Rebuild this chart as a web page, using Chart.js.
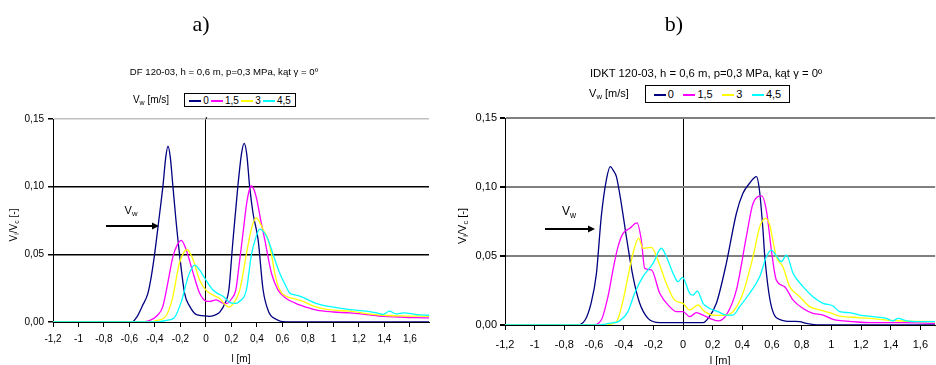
<!DOCTYPE html>
<html>
<head>
<meta charset="utf-8">
<script src="https://cdn.jsdelivr.net/npm/chart.js@4/dist/chart.umd.min.js"></script>
<style>
  body { margin: 0; background: #fff; }
  #hoja { position: relative; width: 936px; height: 365px; overflow: hidden; font-family: "Liberation Sans", Arial, sans-serif; color: #000; }
  canvas { position: absolute; top: 0; }
  .txt { position: absolute; white-space: nowrap; transform: translate(-50%, -50%); }
  .serif { font-family: "Liberation Serif", "Times New Roman", serif; font-size: 22px; }
  .leyenda { position: absolute; border: 1px solid #000; box-sizing: border-box; display: flex; align-items: center; justify-content: space-around; padding: 0 3px; background: #fff; }
  .leyenda span.linea { display: inline-block; width: 12px; height: 2px; margin-right: 2px; vertical-align: middle; }
  .ytit { position: absolute; white-space: nowrap; transform: translate(-50%, -50%) rotate(-90deg); }
  sub { font-size: 70%; vertical-align: -0.25em; }
</style>
</head>
<body>
<div id="hoja">
  <canvas id="ChartLineDF" width="470" height="365" style="left:0"></canvas>
  <canvas id="ChartLineIDKT" width="466" height="368" style="left:470px"></canvas>

  <div class="txt serif" style="left:201px; top:24px;">a)</div>
  <div class="txt serif" style="left:674px; top:24px;">b)</div>

  <div class="txt" style="left:224px; top:71px; font-size:9.6px;">DF 120-03, h = 0,6 m, p=0,3 MPa, kąt γ = 0º</div>
  <div class="txt" style="left:706px; top:73px; font-size:11.3px;">IDKT 120-03, h = 0,6 m, p=0,3 MPa, kąt γ = 0º</div>

  <div class="txt" style="left:151px; top:100px; font-size:10px;">V<sub>w</sub> [m/s]</div>
  <div class="leyenda" id="leyendaDF" style="left:184px; top:93px; width:112px; height:14px; font-size:10px;"></div>
  <div class="txt" style="left:609px; top:94px; font-size:11px;">V<sub>w</sub> [m/s]</div>
  <div class="leyenda" id="leyendaIDKT" style="left:645px; top:85px; width:145px; height:18px; font-size:11px;"></div>

  <div class="ytit" style="left:14px; top:225px; font-size:10px;">V<sub>i</sub>/V<sub>c</sub> [-]</div>
  <div class="ytit" style="left:463px; top:226px; font-size:11px;">V<sub>i</sub>/V<sub>c</sub> [-]</div>

  <div class="txt" style="left:131px; top:211px; font-size:11px;">V<sub>w</sub></div>
  <div class="txt" style="left:569px; top:212px; font-size:12px;">V<sub>w</sub></div>
  <svg width="936" height="365" style="position:absolute;left:0;top:0;">
    <line x1="206.3" y1="117" x2="206.3" y2="119" stroke="#000" stroke-width="1"/>
    <line x1="106" y1="226" x2="152" y2="226" stroke="#000" stroke-width="2"/>
    <polygon points="152,222.5 159,226 152,229.5" fill="#000"/>
    <line x1="545" y1="229" x2="588" y2="229" stroke="#000" stroke-width="2"/>
    <polygon points="588,225.5 595,229 588,232.5" fill="#000"/>
  </svg>
</div>

<script>
// series (Vw)
var serieLabels = ['0', '1,5', '3', '4,5'];
var serieColors = ['#000080', '#ff00ff', '#ffff00', '#00ffff'];

// ticks
var xTicks = [-1.2, -1, -0.8, -0.6, -0.4, -0.2, 0, 0.2, 0.4, 0.6, 0.8, 1, 1.2, 1.4, 1.6];
var xTickLabels = ['-1,2', '-1', '-0,8', '-0,6', '-0,4', '-0,2', '0', '0,2', '0,4', '0,6', '0,8', '1', '1,2', '1,4', '1,6'];
var yTicks = [0, 0.05, 0.10, 0.15];
var yTickLabels = ['0,00', '0,05', '0,10', '0,15'];

// a) DF 120-03  [l, Vi/Vc]
var dfV0 = [[-1.2,0],[-0.58,0],[-0.54,0.004],[-0.50,0.0117],[-0.456,0.021],[-0.43,0.033],[-0.403,0.05],[-0.37,0.075],[-0.338,0.10],[-0.315,0.122],[-0.298,0.130],[-0.28,0.122],[-0.259,0.10],[-0.235,0.075],[-0.207,0.05],[-0.167,0.021],[-0.128,0.0117],[-0.075,0.0055],[0.0,0.0045],[0.03,0.0042],[0.08,0.0055],[0.11,0.0075],[0.15,0.014],[0.18,0.024],[0.21,0.058],[0.25,0.10],[0.28,0.125],[0.30,0.132],[0.32,0.124],[0.343,0.10],[0.37,0.08],[0.409,0.061],[0.448,0.024],[0.49,0.008],[0.55,0.002],[0.63,0],[1.75,0]];
var dfV15 = [[-1.2,0],[-0.53,0],[-0.44,0.0012],[-0.38,0.005],[-0.34,0.011],[-0.30,0.0285],[-0.26,0.048],[-0.225,0.057],[-0.193,0.0603],[-0.17,0.057],[-0.15,0.052],[-0.10,0.036],[-0.05,0.0214],[0.0,0.0155],[0.03,0.0152],[0.08,0.0164],[0.13,0.014],[0.16,0.0137],[0.20,0.017],[0.235,0.024],[0.26,0.042],[0.29,0.065],[0.32,0.088],[0.345,0.099],[0.357,0.1005],[0.38,0.097],[0.40,0.09],[0.43,0.075],[0.461,0.061],[0.514,0.036],[0.566,0.0236],[0.63,0.0174],[0.70,0.014],[0.74,0.0124],[0.87,0.0087],[1.0,0.0074],[1.13,0.0067],[1.26,0.0055],[1.39,0.0042],[1.52,0.0037],[1.65,0.0032],[1.75,0.003]];
var dfV3 = [[-1.2,0],[-0.46,0],[-0.38,0.0012],[-0.31,0.005],[-0.26,0.0186],[-0.21,0.043],[-0.17,0.052],[-0.146,0.0534],[-0.12,0.05],[-0.10,0.046],[-0.05,0.031],[0.0,0.0236],[0.055,0.0199],[0.107,0.0174],[0.15,0.013],[0.181,0.011],[0.21,0.013],[0.265,0.0236],[0.317,0.05],[0.36,0.07],[0.395,0.077],[0.42,0.074],[0.45,0.068],[0.487,0.061],[0.514,0.05],[0.54,0.036],[0.579,0.0236],[0.63,0.019],[0.70,0.017],[0.74,0.016],[0.87,0.011],[1.0,0.0087],[1.13,0.008],[1.26,0.0062],[1.39,0.005],[1.52,0.0045],[1.75,0.0042]];
var dfV45 = [[-1.2,0],[-0.39,0],[-0.31,0.0012],[-0.25,0.003],[-0.19,0.016],[-0.14,0.0335],[-0.11,0.040],[-0.089,0.042],[-0.05,0.0385],[0.0,0.031],[0.055,0.0236],[0.094,0.021],[0.134,0.019],[0.186,0.0145],[0.225,0.0137],[0.26,0.015],[0.317,0.0236],[0.357,0.05],[0.39,0.062],[0.422,0.0687],[0.45,0.067],[0.487,0.061],[0.526,0.05],[0.579,0.036],[0.63,0.026],[0.657,0.0214],[0.70,0.020],[0.74,0.019],[0.87,0.0136],[1.0,0.011],[1.13,0.0092],[1.26,0.008],[1.34,0.0067],[1.39,0.0057],[1.44,0.008],[1.49,0.006],[1.55,0.0068],[1.65,0.0055],[1.75,0.005]];

// b) IDKT 120-03
var idktV0 = [[-1.2,0],[-0.72,0],[-0.66,0.0036],[-0.62,0.0157],[-0.584,0.037],[-0.551,0.0785],[-0.517,0.105],[-0.49,0.1147],[-0.47,0.112],[-0.449,0.1075],[-0.416,0.088],[-0.382,0.064],[-0.337,0.035],[-0.292,0.0157],[-0.236,0.0048],[-0.157,0.0017],[0.135,0.0017],[0.169,0.0048],[0.225,0.0157],[0.292,0.0447],[0.36,0.081],[0.404,0.0954],[0.449,0.1027],[0.495,0.1075],[0.515,0.098],[0.539,0.069],[0.551,0.05],[0.596,0.0133],[0.663,0.0036],[0.74,0.0026],[0.787,0.0024],[0.831,0.0012],[0.92,0],[1.7,0]];
var idktV15 = [[-1.2,0],[-0.61,0],[-0.551,0.0036],[-0.506,0.0205],[-0.472,0.04],[-0.438,0.0568],[-0.404,0.0664],[-0.36,0.07],[-0.31,0.074],[-0.281,0.0616],[-0.258,0.041],[-0.213,0.04],[-0.157,0.023],[-0.09,0.0133],[-0.045,0.0097],[0.0,0.0097],[0.045,0.006],[0.09,0.0089],[0.135,0.0072],[0.18,0.0048],[0.236,0.003],[0.292,0.0072],[0.36,0.0254],[0.427,0.064],[0.472,0.088],[0.53,0.0935],[0.562,0.083],[0.596,0.054],[0.629,0.0326],[0.685,0.0278],[0.742,0.018],[0.809,0.012],[0.876,0.0085],[0.944,0.0072],[1.011,0.0041],[1.079,0.003],[1.146,0.0024],[1.258,0.0017],[1.483,0.0017],[1.7,0.0012]];
var idktV3 = [[-1.2,0],[-0.54,0],[-0.449,0.0024],[-0.404,0.018],[-0.371,0.035],[-0.337,0.052],[-0.299,0.063],[-0.27,0.0556],[-0.213,0.0563],[-0.169,0.047],[-0.112,0.030],[-0.056,0.018],[0.0,0.0157],[0.045,0.0109],[0.101,0.0145],[0.146,0.0097],[0.202,0.0072],[0.27,0.007],[0.337,0.0097],[0.404,0.023],[0.472,0.0495],[0.517,0.071],[0.557,0.0773],[0.584,0.0725],[0.629,0.0495],[0.674,0.042],[0.719,0.0278],[0.787,0.0205],[0.854,0.0133],[0.921,0.0109],[0.989,0.0089],[1.056,0.0065],[1.146,0.0056],[1.258,0.0048],[1.371,0.0036],[1.483,0.0029],[1.7,0.0024]];
var idktV45 = [[-1.2,0],[-0.58,0],[-0.494,0.0012],[-0.427,0.003],[-0.371,0.0097],[-0.326,0.023],[-0.27,0.035],[-0.202,0.0447],[-0.146,0.0556],[-0.112,0.0495],[-0.067,0.0374],[-0.034,0.0314],[-0.004,0.0345],[0.045,0.023],[0.067,0.0217],[0.097,0.0246],[0.135,0.0157],[0.18,0.012],[0.236,0.0097],[0.292,0.0072],[0.337,0.0072],[0.382,0.0133],[0.449,0.023],[0.517,0.035],[0.562,0.0495],[0.596,0.0543],[0.63,0.05],[0.663,0.0459],[0.697,0.0507],[0.742,0.0374],[0.809,0.0278],[0.876,0.0205],[0.944,0.0157],[1.011,0.0138],[1.056,0.0097],[1.124,0.0089],[1.191,0.0072],[1.281,0.006],[1.371,0.0048],[1.416,0.003],[1.449,0.0048],[1.506,0.003],[1.596,0.0024],[1.7,0.0024]];

Chart.defaults.font.family = '"Liberation Sans", Arial, sans-serif';
Chart.defaults.color = '#000';

function crearLeyenda(id) {
  var cont = document.getElementById(id);
  serieLabels.forEach(function (lab, i) {
    var item = document.createElement('span');
    item.innerHTML = '<span class="linea" style="background:' + serieColors[i] + '"></span>' + lab;
    cont.appendChild(item);
  });
}

function crearGrafica(id, series, cfg) {
  var ctx = document.getElementById(id).getContext('2d');
  return new Chart(ctx, {
    type: 'line',
    data: {
      datasets: series.map(function (s, i) {
        return {
          label: serieLabels[i],
          data: s,
          borderColor: serieColors[i],
          borderWidth: 1.3,
          pointRadius: 0,
          fill: false,
          cubicInterpolationMode: 'monotone',
          order: series.length - i
        };
      })
    },
    options: {
      responsive: false,
      animation: false,
      devicePixelRatio: 1,
      layout: { padding: cfg.padding },
      plugins: { legend: { display: false }, tooltip: { enabled: false } },
      scales: {
        x: {
          type: 'linear',
          min: -1.2,
          max: cfg.xMax,
          afterBuildTicks: function (scale) {
            scale.ticks = xTicks.map(function (v) { return { value: v }; });
          },
          afterFit: function (scale) { scale.height = cfg.xHeight; },
          ticks: {
            autoSkip: false,
            maxRotation: 0,
            padding: cfg.xPad,
            font: { size: cfg.font },
            callback: function (v, i) { return xTickLabels[i]; }
          },
          grid: {
            color: function (c) { return c.tick && c.tick.value === 0 ? '#000' : 'rgba(0,0,0,0)'; },
            lineWidth: 1,
            tickColor: '#000',
            tickLength: 5
          },
          border: { color: '#000', width: 1 },
          title: { display: true, text: 'l [m]', font: { size: cfg.font }, padding: { top: cfg.titlePad, bottom: 0 } }
        },
        y: {
          min: 0,
          max: 0.15,
          afterBuildTicks: function (scale) {
            scale.ticks = yTicks.map(function (v) { return { value: v }; });
          },
          afterFit: function (scale) { scale.width = cfg.yWidth; },
          ticks: {
            padding: cfg.yPad,
            font: { size: cfg.font },
            callback: function (v, i) { return yTickLabels[i]; }
          },
          grid: {
            color: function (c) {
              if (!c.tick || c.tick.value === 0) return 'rgba(0,0,0,0)';
              return c.tick.value > 0.12 ? cfg.topGrid : cfg.grid;
            },
            lineWidth: cfg.gridWidth,
            tickColor: '#000',
            tickLength: 5
          },
          border: { color: '#000', width: 1 }
        }
      }
    }
  });
}

crearLeyenda('leyendaDF');
crearLeyenda('leyendaIDKT');

crearGrafica('ChartLineDF', [dfV0, dfV15, dfV3, dfV45], {
  xMax: 1.75, padding: { left: 0, top: 119, right: 41, bottom: 0 },
  yWidth: 53, xHeight: 43, font: 10, xPad: 6, yPad: 4, titlePad: 2,
  grid: '#000', topGrid: '#c0c0c0', gridWidth: 1.5
});

crearGrafica('ChartLineIDKT', [idktV0, idktV15, idktV3, idktV45], {
  xMax: 1.7, padding: { left: 0, top: 118, right: 0, bottom: 0 },
  yWidth: 35, xHeight: 43, font: 11, xPad: 8, yPad: 3, titlePad: 0,
  grid: '#808080', topGrid: '#808080', gridWidth: 2
});
</script>
</body>
</html>
